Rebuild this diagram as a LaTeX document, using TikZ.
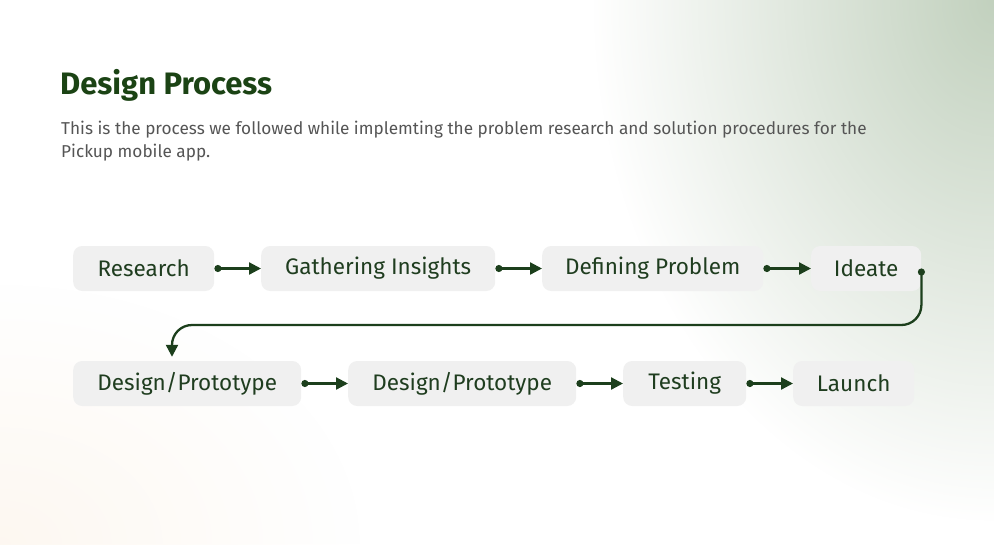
\documentclass[tikz,border=0pt]{standalone}
\usepackage{fontspec}
\setmainfont{Fira Sans}
\usetikzlibrary{arrows.meta,fadings}
\definecolor{leaf}{HTML}{1B4314}
\definecolor{ink}{HTML}{1F3D1F}
\definecolor{wire}{HTML}{1C3F1C}
\definecolor{body}{HTML}{555555}
\definecolor{chip}{HTML}{F0F0F0}
\definecolor{sage}{HTML}{C2D1BE}
\definecolor{peach}{HTML}{FBEFE0}
% radial fade: opaque at the centre, clear towards the rim
\tikzfading[name=glowfade, inner color=transparent!0, outer color=transparent!100]
\tikzset{
  stepbox/.style={fill=chip, rounded corners=9pt, minimum height=45pt,
    inner sep=0pt, text=ink, font=\fontsize{22.5}{26}\selectfont, anchor=west},
  flow/.style={draw=wire, line width=2.3pt,
    {Circle[length=7pt]}-{Triangle[length=12pt,width=12pt]}},
}
\begin{document}
\begin{tikzpicture}[x=1pt,y=-1pt]
  % canvas and soft background tints
  \useasboundingbox (0,0) rectangle (994,544);
  \begin{scope}
    \clip (0,0) rectangle (994,544);
    \fill[white] (0,0) rectangle (994,544);
    \fill[sage, path fading=glowfade] (994,0) ellipse [x radius=400, y radius=520];
    \fill[peach, path fading=glowfade, opacity=0.45] (0,544) ellipse [x radius=360, y radius=260];
  \end{scope}

  % heading
  \node[anchor=base west, inner sep=0pt, text=leaf,
        font=\fontsize{31}{36}\bfseries\selectfont] (title) at (60,94) {Design Process};
  \node[anchor=base west, inner sep=0pt, text=body, align=left,
        font=\fontsize{17.2}{23}\selectfont] (intro) at (61,157)
        {This is the process we followed while implemting the problem research and solution procedures for the\\Pickup mobile app.};

  % first row
  \node[stepbox, minimum width=141pt] (research) at (73,268.5) {Research};
  \node[stepbox, minimum width=234pt] (gather)   at (261,268.5) {Gathering Insights};
  \node[stepbox, minimum width=221pt] (define)   at (542,268.5) {Defining Problem};
  \node[stepbox, minimum width=110pt] (ideate)   at (811,268.5) {Ideate};

  % second row
  \node[stepbox, minimum width=228pt] (proto1)  at (73,383.5) {Design/Prototype};
  \node[stepbox, minimum width=228pt] (proto2)  at (348,383.5) {Design/Prototype};
  \node[stepbox, minimum width=123pt] (testing) at (623,383.5) {Testing};
  \node[stepbox, minimum width=121pt] (launch)  at (793,383.5) {Launch};

  % connectors
  \draw[flow] (research.east) -- (gather.west);
  \draw[flow] (gather.east) -- (define.west);
  \draw[flow] (define.east) -- (ideate.west);
  \draw[flow, rounded corners=20pt, shorten >=4pt]
    (ideate.east) -- (ideate.east |- 0,325) -- (172,325) -- (proto1.north -| 172,0);
  \draw[flow] (proto1.east) -- (proto2.west);
  \draw[flow] (proto2.east) -- (testing.west);
  \draw[flow] (testing.east) -- (launch.west);
\end{tikzpicture}
\end{document}
